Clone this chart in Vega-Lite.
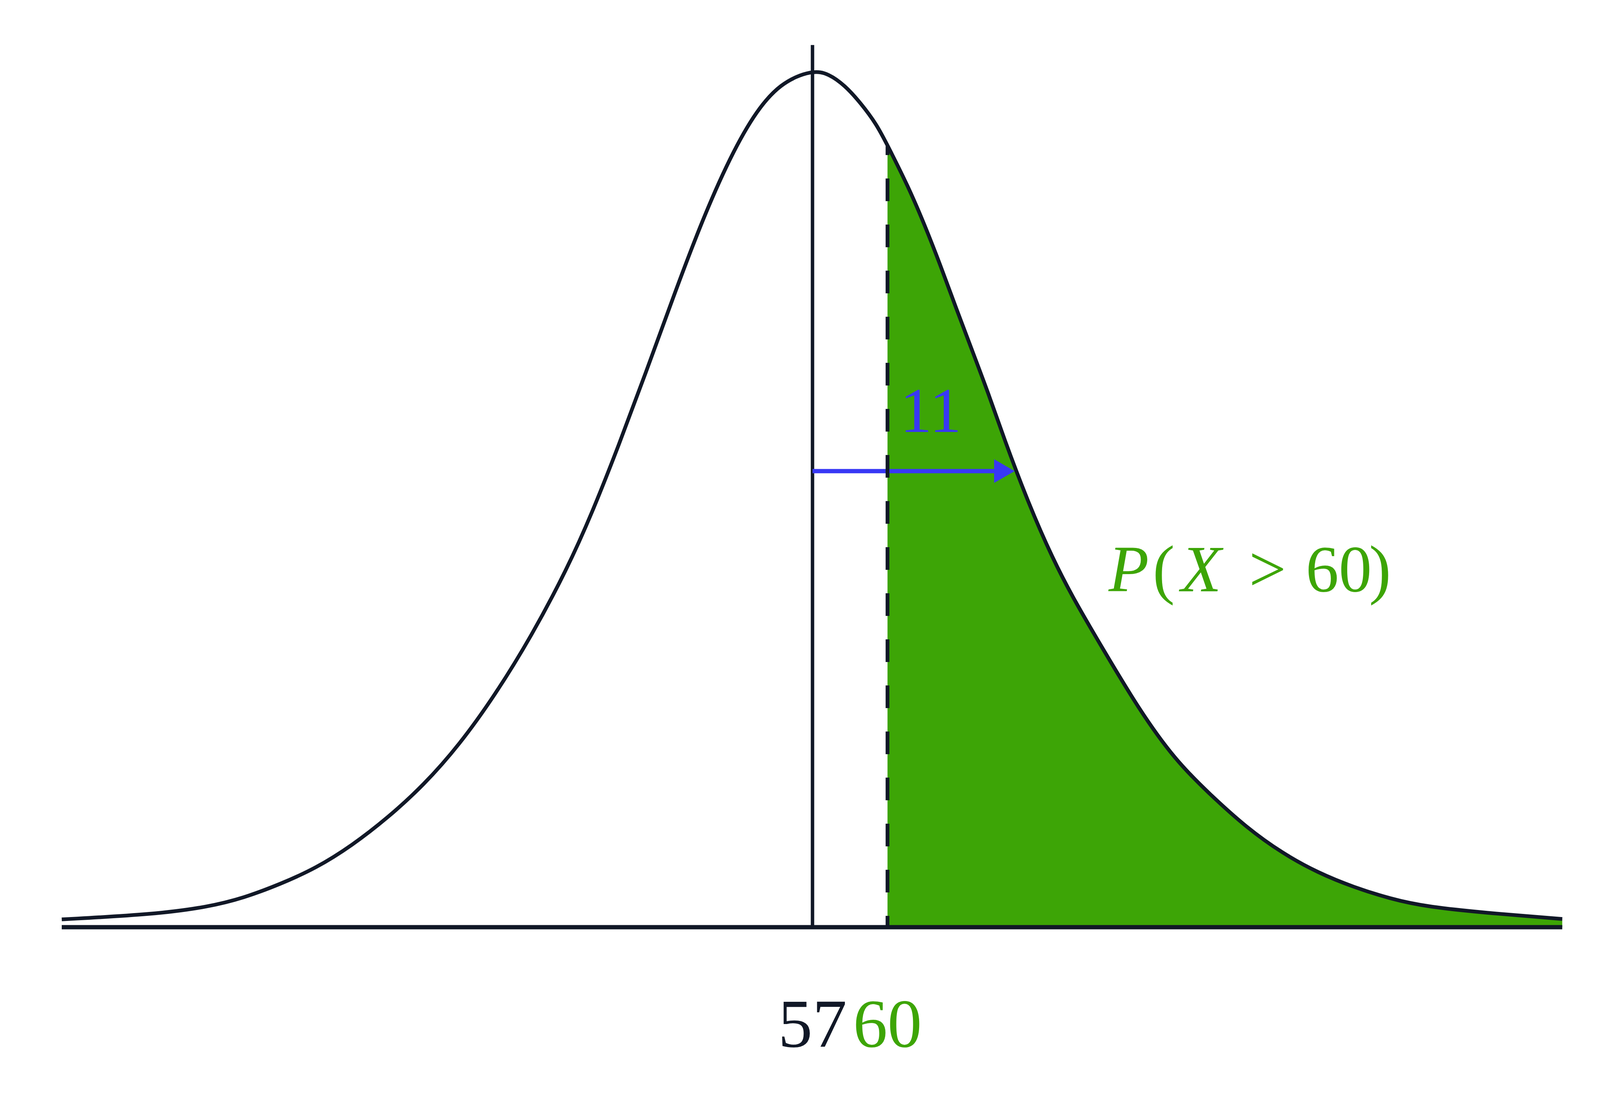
{
  "$schema": "https://vega.github.io/schema/vega-lite/v6.json",
  "width": 4160,
  "height": 2860,
  "autosize": {"type": "none"},
  "padding": 0,
  "background": "white",
  "config": {"view": {"stroke": null}},
  "datasets": {
    "curve": [
      {"x": 26.97, "y": 0.0091}, {"x": 30.68, "y": 0.0150}, {"x": 32.84, "y": 0.0237},
      {"x": 34.26, "y": 0.0342}, {"x": 35.70, "y": 0.0501}, {"x": 37.14, "y": 0.0688},
      {"x": 38.58, "y": 0.0952}, {"x": 40.01, "y": 0.1276}, {"x": 41.44, "y": 0.1654},
      {"x": 42.88, "y": 0.2128}, {"x": 44.31, "y": 0.2711}, {"x": 45.75, "y": 0.3390},
      {"x": 47.19, "y": 0.4182}, {"x": 48.18, "y": 0.4829}, {"x": 49.25, "y": 0.5620},
      {"x": 50.33, "y": 0.6465}, {"x": 51.41, "y": 0.7335}, {"x": 52.49, "y": 0.8173},
      {"x": 53.56, "y": 0.8897}, {"x": 54.64, "y": 0.9481}, {"x": 55.71, "y": 0.9850},
      {"x": 57.00, "y": 1.0000}, {"x": 57.65, "y": 0.9954}, {"x": 58.29, "y": 0.9820},
      {"x": 58.93, "y": 0.9613}, {"x": 59.56, "y": 0.9367}, {"x": 60.00, "y": 0.9121},
      {"x": 60.84, "y": 0.8633}, {"x": 61.48, "y": 0.8196}, {"x": 62.11, "y": 0.7727},
      {"x": 62.75, "y": 0.7216}, {"x": 63.39, "y": 0.6724}, {"x": 64.03, "y": 0.6232},
      {"x": 64.66, "y": 0.5700}, {"x": 65.63, "y": 0.4950},
      {"x": 66.61, "y": 0.4296}, {"x": 67.48, "y": 0.3809}, {"x": 68.63, "y": 0.3239},
      {"x": 70.05, "y": 0.2545}, {"x": 71.49, "y": 0.1954}, {"x": 72.93, "y": 0.1540},
      {"x": 74.36, "y": 0.1162}, {"x": 75.80, "y": 0.0861}, {"x": 77.23, "y": 0.0633},
      {"x": 78.66, "y": 0.0465}, {"x": 80.10, "y": 0.0333}, {"x": 81.54, "y": 0.0237},
      {"x": 84.41, "y": 0.0155}, {"x": 86.99, "y": 0.0096}
    ]
  },
  "encoding": {
    "x": {"field": "x", "type": "quantitative", "scale": {"domain": [24.5, 89.5], "nice": false, "zero": false}, "axis": null},
    "y": {"field": "y", "type": "quantitative", "scale": {"domain": [-0.2214, 1.0815], "nice": false, "zero": false}, "axis": null}
  },
  "layer": [
    {
      "data": {"name": "curve"},
      "transform": [{"filter": "datum.x >= 60"}],
      "mark": {"type": "area", "interpolate": "basis", "color": "#3da506"},
      "encoding": {
        "y": {"field": "y", "type": "quantitative", "stack": null},
        "y2": {"datum": 0}
      }
    },
    {
      "data": {"name": "curve"},
      "mark": {"type": "line", "interpolate": "basis", "color": "#111827", "strokeWidth": 9.5}
    },
    {
      "data": {"values": [{"x": 26.97, "x2": 86.99, "y": 0}]},
      "mark": {"type": "rule", "color": "#111827", "strokeWidth": 11},
      "encoding": {"x2": {"field": "x2"}}
    },
    {
      "data": {"values": [{"x": 57, "y": 0, "y2": 1.029}]},
      "mark": {"type": "rule", "color": "#111827", "strokeWidth": 8.8},
      "encoding": {"y2": {"field": "y2"}}
    },
    {
      "data": {"values": [{"x": 57, "x2": 64.6, "y": 0.532}]},
      "mark": {"type": "rule", "color": "#3838f5", "strokeWidth": 11},
      "encoding": {"x2": {"field": "x2"}}
    },
    {
      "data": {"values": [{"x": 64.675, "y": 0.532}]},
      "mark": {"type": "point", "shape": "triangle-right", "filled": true, "color": "#3838f5", "size": 3700, "opacity": 1}
    },
    {
      "data": {"values": [{"x": 60, "y": 0, "y2": 0.911}]},
      "mark": {"type": "rule", "color": "#111827", "strokeWidth": 9.6, "strokeDash": [58, 60], "strokeDashOffset": 29},
      "encoding": {"y2": {"field": "y2"}}
    },
    {
      "data": {"values": [{"x": 57, "y": -0.1394, "label": "57"}]},
      "mark": {"type": "text", "font": "Liberation Serif", "fontSize": 176, "align": "center", "baseline": "alphabetic", "color": "#111827"},
      "encoding": {"text": {"field": "label"}}
    },
    {
      "data": {"values": [{"x": 60, "y": -0.1394, "label": "60"}]},
      "mark": {"type": "text", "font": "Liberation Serif", "fontSize": 176, "align": "center", "baseline": "alphabetic", "color": "#3da506"},
      "encoding": {"text": {"field": "label"}}
    },
    {
      "data": {"values": [{"x": 61.73, "y": 0.5777, "label": "11"}]},
      "mark": {"type": "text", "font": "Liberation Serif", "fontSize": 163, "align": "center", "baseline": "alphabetic", "color": "#3838f5"},
      "encoding": {"text": {"field": "label"}}
    },
    {
      "data": {"values": [{"x": 69.65, "y": 0.3918, "label": "P"}, {"x": 72.55, "y": 0.3918, "label": "X"}]},
      "mark": {"type": "text", "font": "Liberation Serif", "fontStyle": "italic", "fontSize": 169, "align": "center", "baseline": "alphabetic", "color": "#3da506"},
      "encoding": {"text": {"field": "label"}}
    },
    {
      "data": {"values": [
        {"x": 71.05, "y": 0.3918, "label": "("},
        {"x": 75.2, "y": 0.3918, "label": ">"},
        {"x": 78.05, "y": 0.3918, "label": "60"},
        {"x": 79.7, "y": 0.3918, "label": ")"}
      ]},
      "mark": {"type": "text", "font": "Liberation Serif", "fontSize": 169, "align": "center", "baseline": "alphabetic", "color": "#3da506"},
      "encoding": {"text": {"field": "label"}}
    }
  ]
}
